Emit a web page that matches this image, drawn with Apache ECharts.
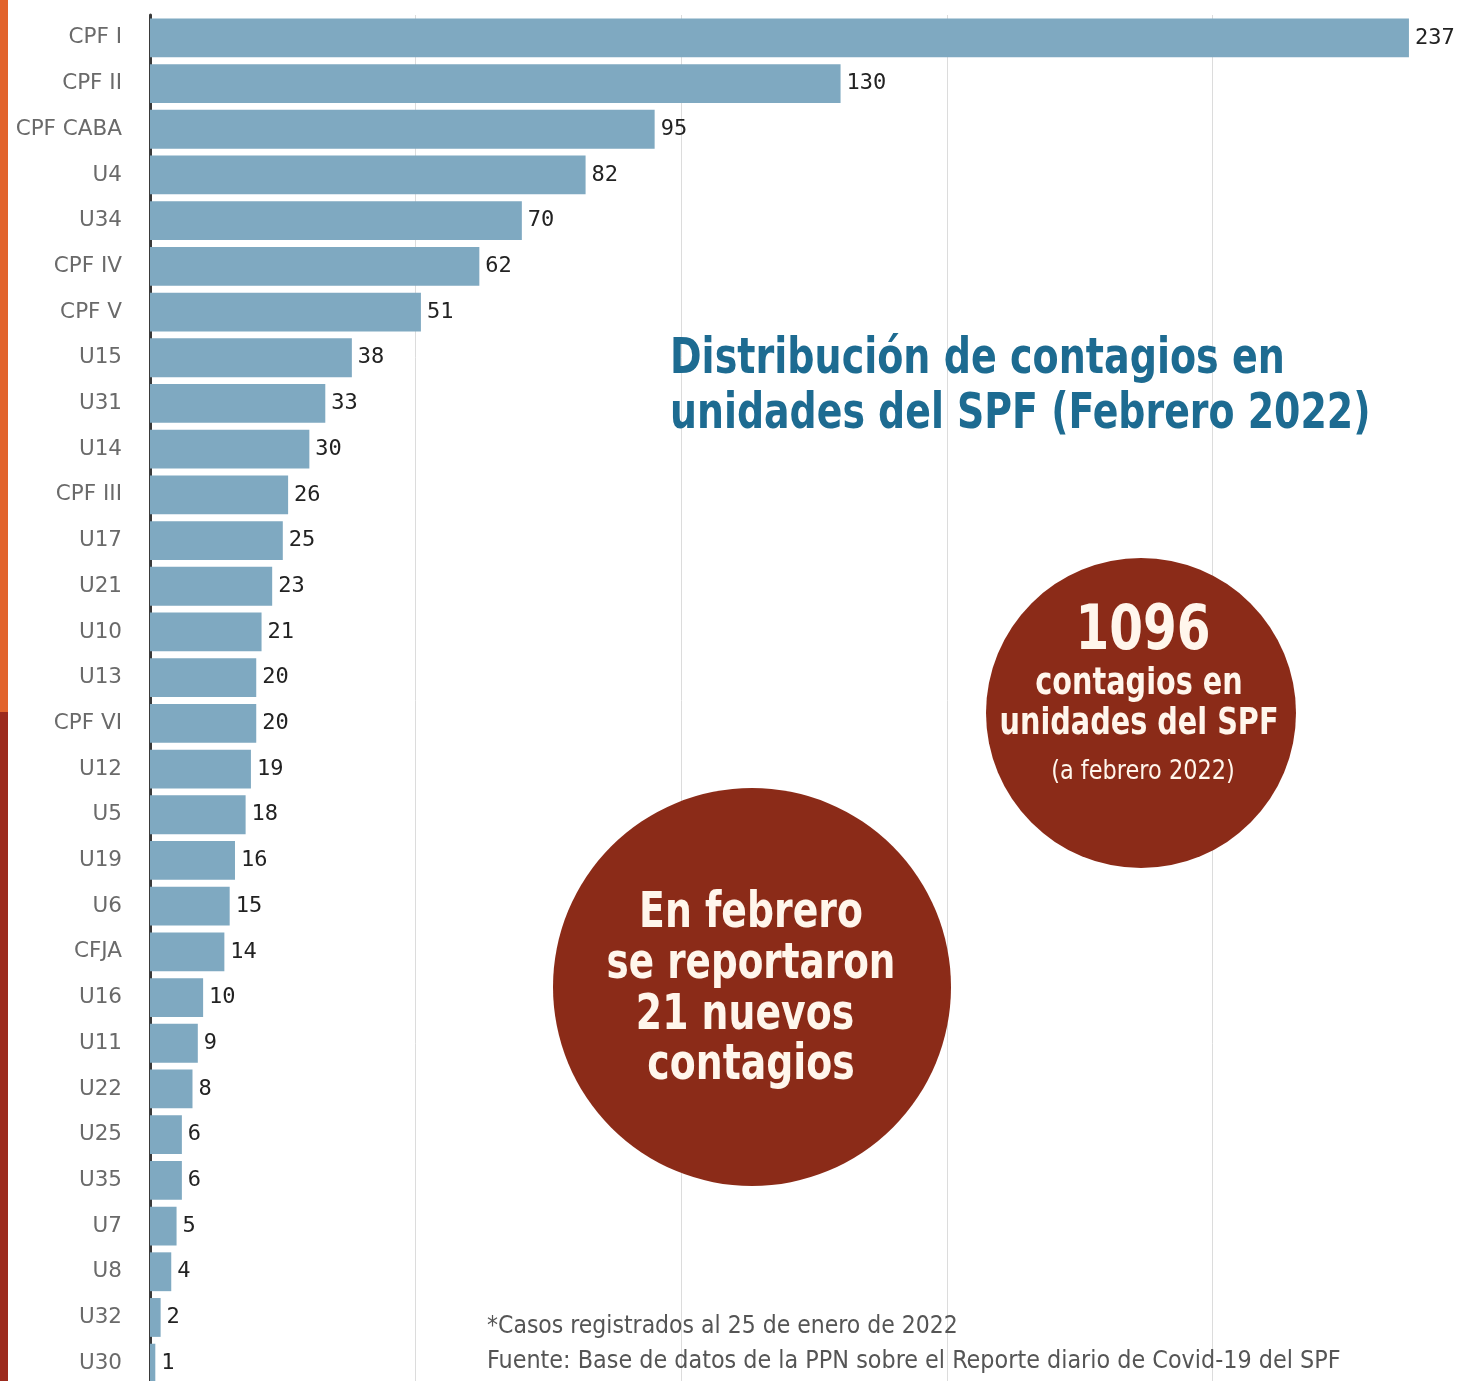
<!DOCTYPE html>
<html><head><meta charset="utf-8">
<script src="https://cdn.jsdelivr.net/npm/echarts@6/dist/echarts.min.js"></script>
<style>html,body{margin:0;padding:0;background:#fff;overflow:hidden}#c{width:1500px;height:1400px}</style>
</head><body><div id="c"></div>
<script>
const categories = ['CPF I','CPF II','CPF CABA','U4','U34','CPF IV','CPF V','U15','U31','U14','CPF III','U17','U21','U10','U13','CPF VI','U12','U5','U19','U6','CFJA','U16','U11','U22','U25','U35','U7','U8','U32','U30'];
const values = [237,130,95,82,70,62,51,38,33,30,26,25,23,21,20,20,19,18,16,15,14,10,9,8,6,6,5,4,2,1];
const titleLines = ['Distribución de contagios en','unidades del SPF (Febrero 2022)'];
const smallCircleLines = ['1096','contagios en','unidades del SPF','(a febrero 2022)'];
const bigCircleLines = ['En febrero','se reportaron','21 nuevos','contagios'];
const notes = ['*Casos registrados al 25 de enero de 2022','Fuente: Base de datos de la PPN sobre el Reporte diario de Covid-19 del SPF'];

const COND = '"DejaVu Sans Condensed","DejaVu Sans",sans-serif';
const TXT = '#fff6ec';
function t(text, x, y, font, fill, sx, align) {
  return {type: 'text', x: x, y: y, scaleX: sx, z: 20,
    style: {text: text, x: 0, y: 0, fill: fill, font: font, textAlign: align || 'center', textVerticalAlign: 'middle'}};
}
const chart = echarts.init(document.getElementById('c'));
chart.setOption({
  animation: false,
  backgroundColor: '#ffffff',
  grid: {left: 150, top: 15, width: 1328, height: 1371},
  xAxis: {type: 'value', min: 0, max: 250, interval: 50,
    axisLabel: {show: false}, axisLine: {show: false}, axisTick: {show: false},
    splitLine: {show: true, lineStyle: {color: '#dcdcdc', width: 1}}},
  yAxis: {type: 'category', data: categories, inverse: true,
    axisLine: {show: true, lineStyle: {color: '#3a3a3a', width: 3}},
    axisTick: {show: false},
    axisLabel: {margin: 28, fontSize: 21.5, color: '#6a6a6a', fontFamily: '"DejaVu Sans",sans-serif'}},
  series: [{type: 'bar', data: values, barCategoryGap: '15%',
    itemStyle: {color: '#7fa9c1'},
    label: {show: true, position: 'right', distance: 6, fontSize: 22, color: '#222',
      fontFamily: '"DejaVu Sans Mono",monospace'}}],
  graphic: [
    {type: 'rect', z: 20, shape: {x: 0, y: 0, width: 8, height: 712}, style: {fill: '#e2632b'}},
    {type: 'rect', z: 20, shape: {x: 0, y: 712, width: 8, height: 669}, style: {fill: '#9c2a1d'}},
    t(titleLines[0], 670, 360, 'bold 50px ' + COND, '#1d6b91', 0.846, 'left'),
    t(titleLines[1], 670, 415, 'bold 50px ' + COND, '#1d6b91', 0.842, 'left'),
    {type: 'circle', z: 15, shape: {cx: 1141, cy: 713, r: 155}, style: {fill: '#8b2b18'}},
    {type: 'circle', z: 15, shape: {cx: 752, cy: 987, r: 199}, style: {fill: '#8b2b18'}},
    t(smallCircleLines[0], 1143, 633, 'bold 62px ' + COND, TXT, 0.87),
    t(smallCircleLines[1], 1139, 684, 'bold 38px ' + COND, TXT, 0.84),
    t(smallCircleLines[2], 1139, 724, 'bold 38px ' + COND, TXT, 0.84),
    t(smallCircleLines[3], 1143, 772, '26px ' + COND, TXT, 0.96),
    t(bigCircleLines[0], 751, 914, 'bold 50px ' + COND, TXT, 0.84),
    t(bigCircleLines[1], 751, 965, 'bold 50px ' + COND, TXT, 0.83),
    t(bigCircleLines[2], 745, 1016, 'bold 50px ' + COND, TXT, 0.84),
    t(bigCircleLines[3], 751, 1066, 'bold 50px ' + COND, TXT, 0.84),
    t(notes[0], 487, 1327, '24px ' + COND, '#555', 1.02, 'left'),
    t(notes[1], 487, 1362, '24px ' + COND, '#555', 1.035, 'left')
  ]
});
</script></body></html>
